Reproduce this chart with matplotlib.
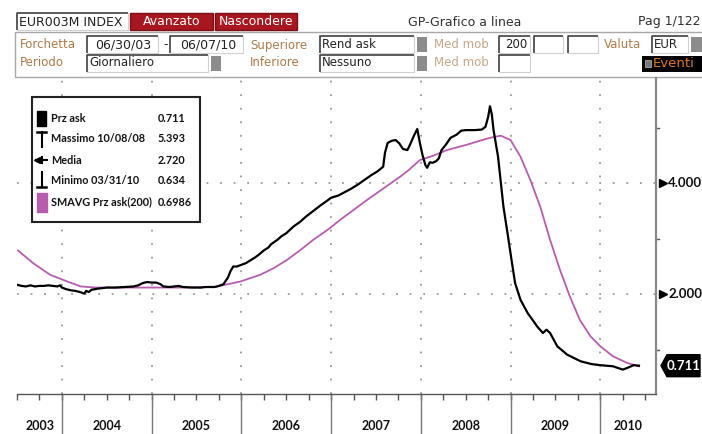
import matplotlib
matplotlib.use("Agg")
import matplotlib.pyplot as plt
import matplotlib.transforms as mtransforms
from matplotlib.patches import Rectangle, Polygon

# ---------------- data ----------------
ask_t = [2003.50, 2003.55, 2003.60, 2003.65, 2003.70, 2003.75, 2003.80, 2003.85, 2003.90, 2003.95,
         2003.98, 2004.00, 2004.05, 2004.10, 2004.15, 2004.20, 2004.25, 2004.27, 2004.30, 2004.33,
         2004.40, 2004.45, 2004.50, 2004.60, 2004.70, 2004.80, 2004.85, 2004.90, 2004.95, 2005.00,
         2005.05, 2005.10, 2005.13, 2005.20, 2005.30, 2005.35, 2005.45, 2005.55, 2005.60, 2005.70,
         2005.75, 2005.80, 2005.85, 2005.88, 2005.91, 2005.95, 2006.00, 2006.05, 2006.10, 2006.15,
         2006.20, 2006.25, 2006.30, 2006.33, 2006.40, 2006.45, 2006.50, 2006.58, 2006.65, 2006.72,
         2006.80, 2006.88, 2006.95, 2007.00, 2007.08, 2007.15, 2007.22, 2007.30, 2007.37, 2007.45,
         2007.52, 2007.58, 2007.60, 2007.63, 2007.68, 2007.72, 2007.76, 2007.80, 2007.85, 2007.88,
         2007.92, 2007.96, 2007.99, 2008.02, 2008.05, 2008.07, 2008.10, 2008.13, 2008.17, 2008.20,
         2008.23, 2008.28, 2008.33, 2008.40, 2008.45, 2008.50, 2008.55, 2008.60, 2008.68, 2008.72,
         2008.75, 2008.77, 2008.79, 2008.81, 2008.86, 2008.92, 2008.96, 2009.01, 2009.05, 2009.11,
         2009.19, 2009.30, 2009.36, 2009.40, 2009.44, 2009.52, 2009.63, 2009.78, 2009.90, 2010.00,
         2010.14, 2010.25, 2010.30, 2010.37, 2010.43]
ask_v = [2.17, 2.15, 2.14, 2.16, 2.14, 2.15, 2.15, 2.16, 2.15, 2.14,
         2.16, 2.12, 2.09, 2.07, 2.06, 2.04, 2.01, 2.06, 2.04, 2.08,
         2.10, 2.11, 2.12, 2.12, 2.13, 2.14, 2.16, 2.20, 2.22, 2.21,
         2.21, 2.18, 2.14, 2.13, 2.15, 2.13, 2.12, 2.12, 2.13, 2.13,
         2.15, 2.18, 2.30, 2.42, 2.50, 2.50, 2.53, 2.56, 2.61, 2.66,
         2.72, 2.79, 2.84, 2.90, 2.98, 3.05, 3.10, 3.22, 3.30, 3.40,
         3.50, 3.60, 3.68, 3.74, 3.78, 3.84, 3.90, 3.98, 4.06, 4.15,
         4.22, 4.30, 4.55, 4.73, 4.77, 4.78, 4.72, 4.62, 4.60, 4.70,
         4.85, 4.98, 4.72, 4.50, 4.33, 4.28, 4.38, 4.37, 4.40, 4.45,
         4.60, 4.70, 4.82, 4.88, 4.95, 4.96, 4.96, 4.96, 4.97, 5.02,
         5.20, 5.39, 5.25, 4.96, 4.48, 3.58, 3.16, 2.62, 2.20, 1.90,
         1.66, 1.41, 1.30, 1.36, 1.30, 1.06, 0.91, 0.79, 0.74, 0.72,
         0.70, 0.64, 0.67, 0.72, 0.711]

sma_t = [2003.51, 2003.68, 2003.87, 2004.06, 2004.21, 2004.38, 2004.77, 2005.32, 2005.71, 2005.76,
         2005.99, 2006.21, 2006.36, 2006.51, 2006.66, 2006.80, 2006.96, 2007.10, 2007.25, 2007.40,
         2007.55, 2007.69, 2007.77, 2007.85, 2007.99, 2008.14, 2008.29, 2008.52, 2008.66, 2008.77,
         2008.89, 2009.00, 2009.11, 2009.22, 2009.33, 2009.44, 2009.55, 2009.66, 2009.77, 2009.89,
         2010.00, 2010.14, 2010.30, 2010.43]
sma_v = [2.79, 2.56, 2.35, 2.23, 2.14, 2.12, 2.12, 2.12, 2.13, 2.15,
         2.23, 2.35, 2.47, 2.62, 2.80, 2.98, 3.16, 3.34, 3.52, 3.70,
         3.87, 4.03, 4.12, 4.22, 4.42, 4.50, 4.60, 4.70, 4.77, 4.82,
         4.86, 4.78, 4.48, 4.06, 3.58, 2.98, 2.44, 1.96, 1.54, 1.24,
         1.06, 0.88, 0.76, 0.6986]

years = [2003, 2004, 2005, 2006, 2007, 2008, 2009, 2010]
ytick_vals = [2.0, 4.0]
ytick_labels = ["2.000", "4.000"]
last_label = "0.711"
legend_names = ["Prz ask", "Massimo 10/08/08", "Media", "Minimo 03/31/10", "SMAVG Prz ask(200)"]
legend_vals = ["0.711", "5.393", "2.720", "0.634", "0.6986"]

NFONT = {"family": ["Liberation Sans Narrow", "Lato", "DejaVu Sans"]}
HFONT = {"family": ["DejaVu Sans"]}

# ---------------- figure ----------------
W, H = 702, 434
fig = plt.figure(figsize=(W / 100, H / 100), dpi=100)
fig.patch.set_facecolor("white")

LBL = "#B07A4A"
MAG = "#B85CB0"

ov = fig.add_axes([0, 0, 1, 1], zorder=0)
ov.set_xlim(0, W)
ov.set_ylim(H, 0)
ov.axis("off")


def rect(x0, y0, x1, y1, fc="white", ec="none", lw=1, z=1):
    ov.add_patch(Rectangle((x0, y0), x1 - x0, y1 - y0, facecolor=fc, edgecolor=ec, lw=lw, zorder=z))


def inset_box(x0, y0, x1, y1):
    rect(x0, y0, x1, y1, fc="white", z=2)
    ov.plot([x0, x0, x1], [y1, y0, y0], color="#404040", lw=1.2, zorder=3, solid_capstyle="butt")
    ov.plot([x1, x1, x0], [y0, y1, y1], color="#d0d0d0", lw=0.8, zorder=3)


def txt(x, y, s, color="#222222", size=8.5, ha="left", weight="normal", z=4, font=None):
    ov.text(x, y, s, color=color, fontsize=size, ha=ha, va="center", fontweight=weight,
            zorder=z, **(font or HFONT))


# top row
inset_box(17, 13, 128, 30)
txt(19, 22, "EUR003M INDEX", size=9, color="#202020")
rect(130, 13, 213, 30, fc="#A8161F", ec="#7a0f15", z=2)
txt(171.5, 21.5, "Avanzato", size=9, color="white", ha="center")
rect(215, 13, 297, 30, fc="#A8161F", ec="#7a0f15", z=2)
txt(256, 21.5, "Nascondere", size=9, color="white", ha="center")
txt(465, 22, "GP-Grafico a linea", size=9, ha="center", color="#303030")
txt(638, 22, "Pag 1/122", size=9, color="#303030")

rect(15, 32, 704, 77, fc="white", ec="#a8a8a8", lw=1, z=1)

r2, r3 = 45, 63
txt(20, r2, "Forchetta", color=LBL)
inset_box(87, 36, 158, 53)
txt(95, r2, "06/30/03", size=9)
txt(163, r2, "-", size=9)
inset_box(170, 36, 243, 53)
txt(180, r2, "06/07/10", size=9)
txt(250, r2, "Superiore", color=LBL)
inset_box(320, 36, 414, 53)
txt(322, r2, "Rend ask")
rect(417, 37, 427, 52, fc="#8c8c8c", z=2)
txt(434, r2, "Med mob", color="#C8A585")
inset_box(499, 36, 530, 53)
txt(505, r2, "200")
inset_box(534, 36, 563, 53)
inset_box(568, 36, 598, 53)
txt(604, r2, "Valuta", color=LBL)
inset_box(652, 36, 688, 53)
txt(654, r2, "EUR")
rect(691, 37, 702, 52, fc="#8c8c8c", z=2)

txt(20, r3, "Periodo", color=LBL)
inset_box(87, 55, 208, 72)
txt(89, r3, "Giornaliero")
rect(211, 56, 221, 71, fc="#8c8c8c", z=2)
txt(250, r3, "Inferiore", color=LBL)
inset_box(320, 55, 414, 72)
txt(322, r3, "Nessuno")
rect(417, 56, 427, 71, fc="#8c8c8c", z=2)
txt(434, r3, "Med mob", color="#C8A585")
inset_box(499, 55, 530, 72)
rect(642, 56, 702, 72, fc="black", z=2)
rect(645, 60, 651, 67, fc="#777777", ec="#aaaaaa", lw=0.6, z=3)
txt(653, r3 + 0.5, "Eventi", color="#E07820", size=9.5)

# ---------------- main axes ----------------
left_px, right_px, top_px, bot_px = 17, 656, 78, 394
ax = fig.add_axes([left_px / W, 1 - bot_px / H, (right_px - left_px) / W, (bot_px - top_px) / H], zorder=2)
ax.patch.set_alpha(0)
xmin, xmax = 2003.505, 2010.62
ymin, ymax = 0.20, 5.90
ax.set_xlim(xmin, xmax)
ax.set_ylim(ymin, ymax)

for s in ["left", "top"]:
    ax.spines[s].set_visible(False)
ax.spines["right"].set_color("#8a8a8a")
ax.spines["right"].set_linewidth(1.6)
ax.spines["bottom"].set_color("#555555")
ax.spines["bottom"].set_linewidth(1.0)

grid_kw = dict(color="#9a9a9a", lw=1.3, linestyle=(0, (1, 6.5)), zorder=1)
for yr in years[1:]:
    ax.axvline(yr, **grid_kw)
for v in ytick_vals:
    ax.axhline(v, **grid_kw)

ax.plot(sma_t, sma_v, color=MAG, lw=1.3, zorder=3)
ax.plot(ask_t, ask_v, color="black", lw=1.6, zorder=4)

qt = [y + q / 4 for y in range(2003, 2011) for q in range(4)]
qt = [t for t in qt if xmin - 0.01 <= t <= xmax]
ax.set_xticks(qt)
ax.set_xticklabels([])
ax.tick_params(axis="x", direction="out", length=4, width=1, color="#555555")
ax.set_yticks([])

bt = mtransforms.blended_transform_factory(ax.transData, ax.transAxes)
ext = -(H - bot_px) / (bot_px - top_px)
for yr in years[1:]:
    ax.plot([yr, yr], [0, ext], transform=bt, clip_on=False, color="#777777", lw=1.0)
lab_y = -(426 - bot_px) / (bot_px - top_px)
for yr in years:
    a, b = max(yr, xmin), min(yr + 1, xmax)
    ax.text((a + b) / 2, lab_y, str(yr), transform=bt, ha="center", va="center",
            fontsize=9, fontweight="bold", color="#111111", **NFONT)

rt = mtransforms.blended_transform_factory(ax.transAxes, ax.transData)
axw = right_px - left_px
for v, s in zip(ytick_vals, ytick_labels):
    ax.plot([1 + 7 / axw], [v], marker=">", ms=6, color="black", transform=rt, clip_on=False)
    ax.text(1 + 12 / axw, v, s, transform=rt, ha="left", va="center", fontsize=9.5,
            fontweight="bold", color="#111111", **NFONT)
for v in [1.0, 3.0, 5.0]:
    ax.plot([1, 1 + 3 / axw], [v, v], transform=rt, clip_on=False, color="#555555", lw=1)

fig.canvas.draw()
yp = H - ax.transData.transform((xmax, ask_v[-1]))[1]
poly = [(661, yp), (667, yp - 11), (700, yp - 11), (700, yp + 11), (667, yp + 11)]
ov.add_patch(Polygon(poly, closed=True, facecolor="black", edgecolor="black", zorder=5))
txt(684, yp, last_label, color="white", size=9.5, ha="center", weight="bold", z=6, font=NFONT)

# ---------------- legend ----------------
lg = fig.add_axes([0, 0, 1, 1], zorder=5)
lg.set_xlim(0, W)
lg.set_ylim(H, 0)
lg.axis("off")
lg.add_patch(Rectangle((32, 97), 168, 125, facecolor="white", edgecolor="#222222", lw=1.5))
rows = [118, 139, 160, 180, 202]
for yrow, name, val in zip(rows, legend_names, legend_vals):
    lg.text(51, yrow, name, fontsize=7.8, fontweight="bold", va="center", ha="left",
            color="#111111", **NFONT)
    lg.text(158, yrow, val, fontsize=7.8, fontweight="bold", va="center", ha="left",
            color="#111111", **NFONT)
y0 = rows[0]
lg.add_patch(Rectangle((37, y0 - 7), 9, 15, facecolor="black", edgecolor="black"))
y1 = rows[1]
lg.plot([37, 46], [y1 - 7, y1 - 7], color="black", lw=1.8)
lg.plot([41.5, 41.5], [y1 - 7, y1 + 8], color="black", lw=1.5)
y2 = rows[2]
lg.plot([36, 47], [y2, y2], color="black", lw=1.5)
lg.plot([41.5, 41.5], [y2 - 3, y2 + 3], color="black", lw=1.5)
lg.plot([36.5], [y2], marker="<", ms=4, color="black")
y3 = rows[3]
lg.plot([41.5, 41.5], [y3 - 8, y3 + 7], color="black", lw=1.5)
lg.plot([37, 46], [y3 + 7, y3 + 7], color="black", lw=1.8)
y4 = rows[4]
lg.add_patch(Rectangle((37, y4 - 9), 10, 19, facecolor=MAG, edgecolor=MAG))

fig.savefig("out.png", dpi=100, facecolor="white")
